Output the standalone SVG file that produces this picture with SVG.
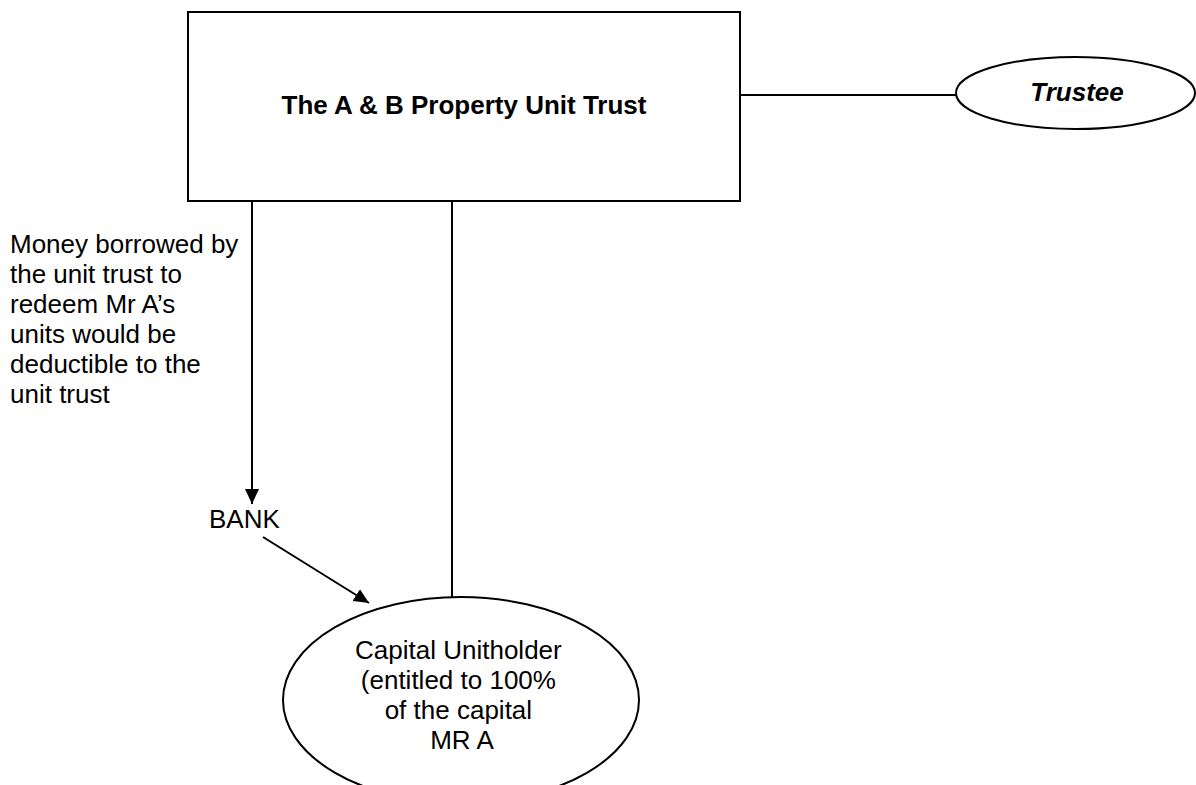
<svg xmlns="http://www.w3.org/2000/svg" width="1196" height="785" viewBox="0 0 1196 785">
<style>
  .shape { fill: #ffffff; stroke: #000000; stroke-width: 2; }
  .line { stroke: #000000; stroke-width: 2; fill: none; }
  .t { font-family: "Liberation Sans", Arial, sans-serif; font-size: 26px; fill: #000000; }
  .b { font-weight: bold; }
  .bi { font-weight: bold; font-style: italic; }
</style>
<defs>
  <marker id="arrow" viewBox="0 0 15 14" refX="15" refY="7" markerWidth="15" markerHeight="14" markerUnits="userSpaceOnUse" orient="auto">
    <path d="M0,0 L15,7 L0,14 z" fill="#000000"/>
  </marker>
</defs>
<rect width="1196" height="785" fill="#ffffff"/>
<g id="connectors">
  <line class="line" x1="740" y1="95" x2="956" y2="95"/>
  <line class="line" x1="252" y1="200" x2="252" y2="504" marker-end="url(#arrow)"/>
  <line class="line" x1="452" y1="200" x2="452" y2="597"/>
  <line class="line" x1="263" y1="537" x2="369" y2="603" marker-end="url(#arrow)"/>
</g>
<g id="trust">
  <rect class="shape" x="188" y="12" width="552" height="189"/>
  <text class="t b" x="464" y="114" text-anchor="middle">The A &amp; B Property Unit Trust</text>
</g>
<g id="trustee">
  <ellipse class="shape" cx="1075.5" cy="93" rx="119.5" ry="36"/>
  <text class="t bi" x="1077" y="101" text-anchor="middle">Trustee</text>
</g>
<g id="money-note">
  <text class="t">
    <tspan x="10" y="253">Money borrowed by</tspan>
    <tspan x="10" y="283">the unit trust to</tspan>
    <tspan x="10" y="313">redeem Mr A’s</tspan>
    <tspan x="10" y="343">units would be</tspan>
    <tspan x="10" y="373">deductible to the</tspan>
    <tspan x="10" y="403">unit trust</tspan>
  </text>
</g>
<g id="bank">
  <text class="t" x="209" y="528">BANK</text>
</g>
<g id="capital-unitholder">
  <ellipse class="shape" cx="461" cy="700" rx="178" ry="103"/>
  <text class="t" text-anchor="middle">
    <tspan x="462" y="659">Capital Unitholder</tspan>
    <tspan x="462" y="689">(entitled to 100%</tspan>
    <tspan x="462" y="719">of the capital</tspan>
    <tspan x="462" y="749">MR A</tspan>
  </text>
</g>
</svg>
